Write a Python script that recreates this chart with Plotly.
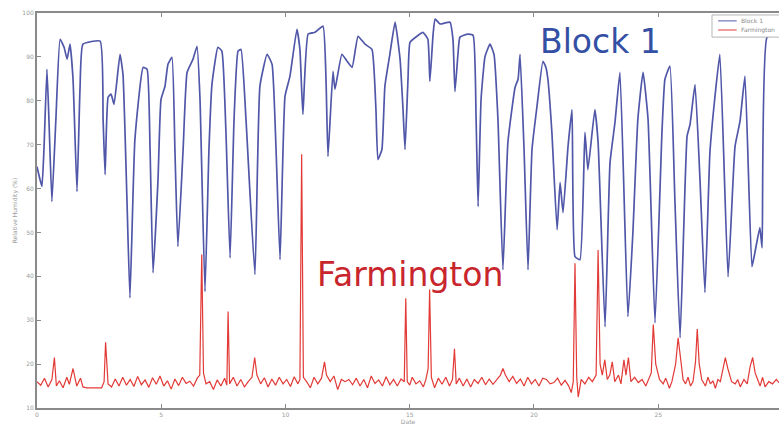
import plotly.graph_objects as go

# Block 1 relative humidity: (day, %RH)
block1_day = [0.0, 0.12, 0.2, 0.28, 0.4, 0.48, 0.6, 0.76, 0.93, 1.09, 1.21, 1.33, 1.45, 1.61, 1.73, 1.85,
              2.54, 2.66, 2.74, 2.86, 2.98, 3.1, 3.34, 3.46, 3.62, 3.74, 3.94, 4.27, 4.43, 4.55, 4.67,
              4.87, 4.99, 5.15, 5.27, 5.43, 5.55, 5.67, 5.88, 6.04, 6.28, 6.44, 6.56, 6.76, 6.92, 7.04,
              7.28, 7.44, 7.6, 7.77, 7.93, 8.09, 8.21, 8.41, 8.77, 8.97, 9.26, 9.46, 9.62, 9.78, 9.98,
              10.18, 10.46, 10.58, 10.7, 10.91, 11.19, 11.51, 11.63, 11.71, 11.91, 11.99, 12.27, 12.48,
              12.68, 12.92, 13.2, 13.48, 13.64, 13.72, 13.88, 14.0, 14.2, 14.41, 14.61, 14.73, 14.81,
              14.93, 15.01, 15.29, 15.53, 15.73, 15.81, 15.94, 16.02, 16.22, 16.62, 16.74, 16.82, 16.94,
              17.02, 17.34, 17.55, 17.67, 17.75, 17.87, 18.03, 18.23, 18.39, 18.55, 18.75, 18.95, 19.24,
              19.36, 19.44, 19.6, 19.76, 19.92, 20.12, 20.36, 20.48, 20.56, 20.72, 20.93, 21.05, 21.17,
              21.37, 21.53, 21.65, 21.85, 22.05, 22.17, 22.45, 22.58, 22.86, 23.06, 23.26, 23.46, 23.78,
              23.98, 24.18, 24.39, 24.59, 24.87, 25.15, 25.27, 25.47, 25.67, 25.88, 26.16, 26.28, 26.48,
              26.68, 26.88, 27.08, 27.28, 27.48, 27.81, 28.09, 28.29, 28.49, 28.77, 28.89, 29.09, 29.18,
              29.38, 29.86]
block1_rh = [65.0, 62.1, 60.5, 68.9, 87.2, 75.8, 57.0, 75.8, 94.0, 92.2, 89.5, 92.9, 84.9, 59.3, 82.6, 92.9,
             93.6, 75.8, 63.2, 80.8, 81.5, 79.2, 90.6, 86.0, 57.5, 35.1, 71.2, 87.6, 87.2, 68.9, 40.8,
             62.1, 80.3, 83.3, 88.3, 89.9, 68.9, 46.8, 68.9, 86.5, 89.5, 92.4, 80.3, 36.5, 68.9, 83.7,
             92.2, 91.3, 73.5, 44.2, 75.8, 91.3, 91.7, 75.8, 40.4, 83.3, 90.6, 88.3, 68.9, 43.8, 81.0,
             85.6, 96.3, 91.7, 76.9, 95.2, 95.6, 97.0, 84.9, 67.3, 86.7, 82.6, 90.6, 89.0,
             87.6, 94.7, 92.9, 91.7, 78.0, 66.6, 68.9, 83.3, 90.6, 97.9, 89.5, 78.0, 68.9,
             84.9, 93.3, 94.7, 95.6, 94.0, 84.4, 95.2, 98.6, 97.5, 97.9, 94.0, 82.1, 90.6,
             94.5, 95.2, 94.9, 75.8, 55.9, 80.3, 90.1, 92.9, 90.6, 75.8, 41.5, 70.5, 83.1,
             84.9, 90.6, 68.9, 41.5, 68.9, 78.7, 89.0, 87.6, 84.9, 72.8, 50.6, 61.4, 54.5,
             69.6, 78.0, 44.5, 43.8, 72.8, 64.3, 78.0, 70.5, 28.5, 65.9, 75.1, 86.5, 30.8,
             50.0, 75.8, 86.5, 75.8, 29.4, 72.8, 84.9, 87.9, 57.5, 26.0, 71.9, 74.6, 83.7,
             62.1, 36.3, 68.2, 80.8, 90.6, 39.9, 69.6, 75.3, 85.6, 42.2, 45.4, 51.1, 46.5,
             94.5, 95.2]

# Farmington relative humidity: (day, %RH)
farm_day = [0.0, 0.15, 0.3, 0.45, 0.6, 0.7, 0.78, 0.9, 1.05, 1.2, 1.3, 1.45, 1.6, 1.75, 1.85, 2.0, 2.6,
            2.7, 2.76, 2.86, 3.0, 3.15, 3.3, 3.45, 3.6, 3.75, 3.9, 4.05, 4.2, 4.35, 4.5, 4.65, 4.8,
            4.95, 5.1, 5.25, 5.4, 5.55, 5.7, 5.85, 6.0, 6.15, 6.3, 6.45, 6.55, 6.63, 6.7, 6.8, 6.95,
            7.1, 7.25, 7.4, 7.55, 7.64, 7.69, 7.75, 7.9, 8.05, 8.2, 8.35, 8.5, 8.65, 8.76, 8.85, 9.0,
            9.15, 9.3, 9.45, 9.6, 9.75, 9.9, 10.05, 10.2, 10.35, 10.5, 10.58, 10.65, 10.72, 10.85,
            11.0, 11.15, 11.3, 11.45, 11.57, 11.65, 11.8, 11.95, 12.1, 12.25, 12.4, 12.55, 12.7,
            12.85, 13.0, 13.15, 13.3, 13.45, 13.6, 13.75, 13.9, 14.05, 14.2, 14.35, 14.5, 14.65,
            14.78, 14.84, 14.9, 15.0, 15.1, 15.25, 15.4, 15.55, 15.65, 15.74, 15.8, 15.87, 16.0,
            16.15, 16.3, 16.45, 16.6, 16.72, 16.8, 16.87, 17.0, 17.15, 17.3, 17.45, 17.6, 17.75,
            17.9, 18.05, 18.2, 18.35, 18.5, 18.65, 18.75, 18.85, 19.0, 19.15, 19.3, 19.45, 19.6,
            19.75, 19.9, 20.05, 20.2, 20.35, 20.5, 20.65, 20.8, 20.95, 21.1, 21.25, 21.4, 21.5,
            21.58, 21.65, 21.72, 21.78, 21.9, 22.05, 22.2, 22.35, 22.5, 22.58, 22.66, 22.75, 22.85,
            22.95, 23.05, 23.15, 23.25, 23.4, 23.5, 23.62, 23.7, 23.8, 23.9, 24.05, 24.2, 24.35,
            24.5, 24.62, 24.72, 24.8, 24.9, 25.05, 25.2, 25.3, 25.45, 25.55, 25.7, 25.8, 25.9,
            26.0, 26.1, 26.2, 26.3, 26.4, 26.5, 26.57, 26.65, 26.75, 26.9, 27.0, 27.1, 27.2, 27.3,
            27.4, 27.5, 27.62, 27.7, 27.8, 27.95, 28.1, 28.2, 28.3, 28.45, 28.58, 28.7, 28.8, 28.9,
            29.0, 29.1, 29.2, 29.3, 29.45, 29.6, 29.75, 29.86]
farm_rh = [16.0, 15.2, 16.8, 14.8, 16.5, 21.5, 15.0, 16.2, 14.6, 17.0, 15.4, 19.0, 15.0, 16.8, 14.8, 14.6, 14.6,
           16.0, 25.0, 15.5, 14.8, 16.6, 15.0, 17.0, 15.2, 16.5, 14.9, 17.2, 15.3, 16.4, 14.7, 16.9, 15.4,
           17.3, 15.0, 16.2, 14.3, 16.6, 15.1, 17.0, 15.6, 16.1, 15.0, 16.8, 17.5, 45.0, 18.0, 15.5, 16.0,
           14.2, 16.4, 15.0, 16.8, 15.2, 32.0, 15.5, 17.0, 15.0, 16.5, 14.8, 16.0, 17.0, 21.5, 17.5, 15.5,
           16.9, 14.8, 16.6, 15.2, 17.0, 15.5, 16.5, 14.9, 17.1, 15.5, 16.5, 67.8, 17.0, 16.0,
           14.6, 17.0, 15.5, 16.8, 20.5, 17.5, 16.0, 17.3, 14.2, 16.5, 16.0, 16.5, 15.3,
           16.8, 15.0, 16.5, 14.6, 17.3, 15.6, 16.4, 15.0, 17.1, 15.3, 16.5, 15.0, 16.6,
           16.0, 35.0, 16.0, 15.2, 17.0, 15.5, 16.2, 14.8, 16.5, 19.0, 37.0, 17.0, 14.6,
           16.8, 15.4, 17.0, 15.0, 16.5, 23.5, 15.5, 16.8, 15.0, 16.6, 14.8, 16.5, 15.6,
           17.0, 15.3, 16.6, 15.4, 16.4, 17.5, 19.0, 17.5, 16.0, 17.2, 15.6, 16.6, 15.0,
           17.0, 15.5, 16.5, 15.0, 16.8, 16.5, 15.5, 15.8, 16.8, 15.2, 16.3, 15.0, 13.5,
           16.0, 43.0, 17.0, 12.5, 16.5, 15.5, 17.0, 16.0, 17.5, 46.0, 20.0, 17.5, 21.0,
           16.5, 17.5, 20.5, 16.0, 17.5, 15.5, 21.0, 17.5, 21.5, 16.0, 17.0, 15.8, 16.5,
           15.0, 16.5, 18.0, 29.0, 20.0, 16.5, 15.5, 16.8, 14.5, 16.0, 20.0, 26.0, 21.0,
           16.5, 15.5, 17.0, 15.0, 16.0, 20.5, 28.0, 20.0, 16.5, 15.0, 17.0, 15.5, 16.2, 14.5,
           16.5, 16.0, 19.0, 21.5, 19.0, 16.0, 15.5, 16.5, 14.8, 16.5, 15.5, 19.5, 21.5, 18.0,
           16.5, 15.0, 17.0, 14.8, 16.0, 15.5, 16.5, 15.8]

x_ticks = [0, 5, 10, 15, 20, 25]
y_ticks = [10, 20, 30, 40, 50, 60, 70, 80, 90, 100]

BLUE = "#5057a8"
RED = "#e23a36"
GREY = "#9a9a9a"

fig = go.Figure()
fig.add_trace(go.Scatter(x=farm_day, y=farm_rh, mode="lines", name="Farmington",
                         line=dict(color=RED, width=1.2)))
fig.add_trace(go.Scatter(x=block1_day, y=block1_rh, mode="lines", name="Block 1",
                         line=dict(color=BLUE, width=1.7, shape="spline", smoothing=0.4)))

axis_common = dict(showgrid=False, zeroline=False, showline=True, linecolor="#8a8a8a", linewidth=2,
                   ticks="inside", ticklen=4, tickcolor="#8a8a8a",
                   tickfont=dict(size=6, color=GREY, family="DejaVu Sans"))

# compact boxed key in the upper-right corner
legend_entries = [("Block 1", BLUE, 0.980), ("Farmington", RED, 0.957)]
shapes = [dict(type="rect", xref="paper", yref="paper", x0=0.9097, x1=1.02, y0=0.939, y1=0.995,
               fillcolor="white", line=dict(color="#b5b5b5", width=1), layer="above")]
annotations = []
for label, color, yy in legend_entries:
    shapes.append(dict(type="line", xref="paper", yref="paper", x0=0.918, x1=0.943, y0=yy, y1=yy,
                       line=dict(color=color, width=1), layer="above"))
    annotations.append(dict(text=label, x=0.946, y=yy, xref="paper", yref="paper", showarrow=False,
                            xanchor="left", yanchor="middle",
                            font=dict(size=6, color="#888888", family="DejaVu Sans")))

annotations += [
    dict(text="Block 1", x=0.759, y=0.927, xref="paper", yref="paper", showarrow=False,
         xanchor="center", yanchor="middle",
         font=dict(size=33, color="#3450a4", family="DejaVu Sans")),
    dict(text="Farmington", x=0.503, y=0.338, xref="paper", yref="paper", showarrow=False,
         xanchor="center", yanchor="middle",
         font=dict(size=33, color="#c8262c", family="DejaVu Sans")),
]

fig.update_layout(
    width=779, height=427,
    margin=dict(l=37, r=0, t=13, b=19),
    paper_bgcolor="white", plot_bgcolor="white",
    showlegend=False,
    xaxis=dict(range=[0, 29.86], tickvals=x_ticks, ticktext=[str(v) for v in x_ticks],
               mirror="ticks",
               title=dict(text="Date", font=dict(size=6, color=GREY, family="DejaVu Sans"),
                          standoff=0),
               **axis_common),
    yaxis=dict(range=[10, 100], tickvals=y_ticks, ticktext=[str(v) for v in y_ticks],
               title=dict(text="Relative Humidity (%)",
                          font=dict(size=6, color=GREY, family="DejaVu Sans"), standoff=4),
               **axis_common),
    shapes=shapes,
    annotations=annotations,
)

fig.write_html("out.html")
